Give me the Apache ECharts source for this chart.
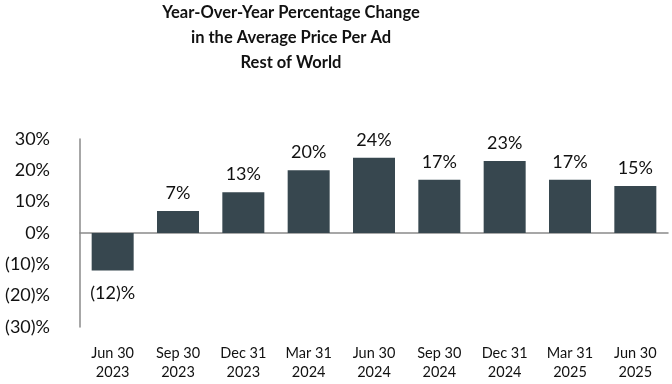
<!DOCTYPE html>
<html><head><meta charset="utf-8">
<script src="https://cdn.jsdelivr.net/npm/echarts@6/dist/echarts.min.js"></script>
<style>html,body{margin:0;padding:0;background:#fff}#c{width:672px;height:384px}</style>
</head><body><div id="c"></div>
<script>
const categories = ["Jun 30\n2023","Sep 30\n2023","Dec 31\n2023","Mar 31\n2024","Jun 30\n2024","Sep 30\n2024","Dec 31\n2024","Mar 31\n2025","Jun 30\n2025"];
const values = [-12, 7, 13, 20, 24, 17, 23, 17, 15];
const yTicks = [-30, -20, -10, 0, 10, 20, 30];
const FONT = "Lato, 'Open Sans', sans-serif";
const fmt = v => v < 0 ? "(" + Math.abs(v) + ")%" : v + "%";
const chart = echarts.init(document.getElementById('c'));
chart.setOption({
  animation: false,
  title: {
    text: "Year-Over-Year Percentage Change\nin the Average Price Per Ad\nRest of World",
    left: 291, top: 0, padding: 0, textAlign: 'center',
    textStyle: {fontFamily: FONT, fontWeight: 'bold', fontSize: 16.5, lineHeight: 25, color: '#111'}
  },
  grid: {left: 80, right: 4, top: 139, bottom: 57},
  xAxis: {
    type: 'category', data: categories,
    axisLine: {onZero: true, lineStyle: {color: '#8a8a8a', width: 1.5}},
    axisTick: {show: false},
    axisLabel: {fontFamily: FONT, fontSize: 14.5, color: '#111', lineHeight: 19, interval: 0, margin: 16.5}
  },
  yAxis: {
    type: 'value', min: -30, max: 30, interval: 10,
    axisLine: {show: true, lineStyle: {color: '#8a8a8a', width: 1.5}},
    axisTick: {show: false},
    splitLine: {show: false},
    axisLabel: {fontFamily: FONT, fontSize: 18, color: '#111', margin: 30,
      formatter: v => yTicks.includes(v) ? fmt(v) : ''}
  },
  series: [{
    type: 'bar', barWidth: 42,
    data: values.map(v => v < 0 ? {value: v, label: {position: 'bottom', distance: 14}} : v),
    itemStyle: {color: '#37474f'},
    label: {show: true, fontFamily: FONT, fontSize: 18, color: '#111',
      position: 'top', distance: 9,
      formatter: p => fmt(p.value)}
  }]
});
</script></body></html>
